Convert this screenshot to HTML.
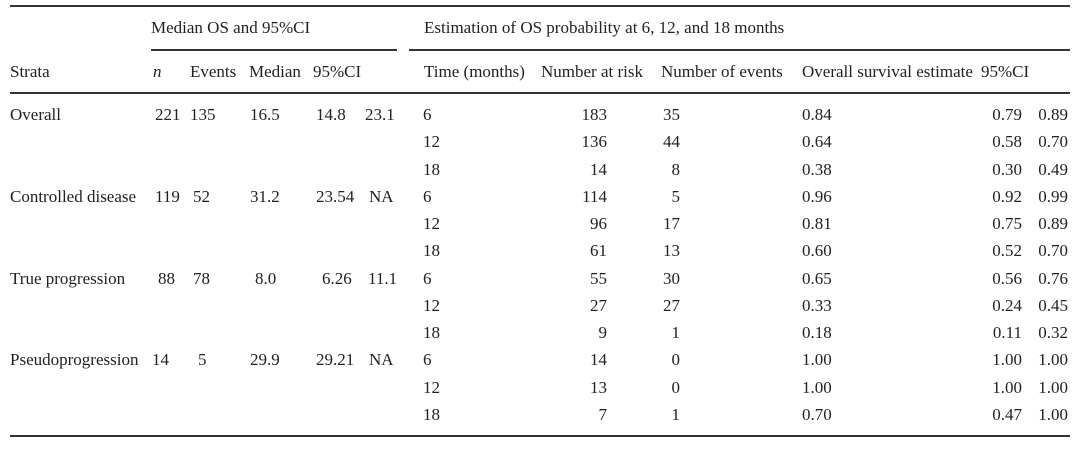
<!DOCTYPE html>
<html><head><meta charset="utf-8"><style>
body{margin:0;width:1080px;height:449px;background:#fff;position:relative;overflow:hidden;font-family:"Liberation Serif",serif;font-size:17px;color:#222}
.t{position:absolute;white-space:nowrap;line-height:20px;transform:translateY(-10px)}
.r{text-align:right}
.ln{position:absolute;background:#333}
</style></head><body>
<div class="ln" style="left:10px;top:5px;width:1060px;height:2px"></div>
<div class="ln" style="left:151px;top:49px;width:246px;height:1.5px"></div>
<div class="ln" style="left:409px;top:49px;width:661px;height:1.5px"></div>
<div class="ln" style="left:10px;top:92px;width:1060px;height:2px"></div>
<div class="ln" style="left:10px;top:435px;width:1060px;height:2px"></div>
<span class="t" style="left:151px;top:28px">Median OS and 95%CI</span>
<span class="t" style="left:424px;top:28px">Estimation of OS probability at 6, 12, and 18 months</span>
<span class="t" style="left:10px;top:72px">Strata</span>
<span class="t" style="left:153px;top:72px"><i>n</i></span>
<span class="t" style="left:190px;top:72px">Events</span>
<span class="t" style="left:249px;top:72px">Median</span>
<span class="t" style="left:313px;top:72px">95%CI</span>
<span class="t" style="left:424px;top:72px">Time (months)</span>
<span class="t" style="left:541px;top:72px">Number at risk</span>
<span class="t" style="left:661px;top:72px">Number of events</span>
<span class="t" style="left:802px;top:72px">Overall survival estimate</span>
<span class="t" style="left:981px;top:72px">95%CI</span>
<script>
const strata=[["Overall","221","135","16.5","14.8","23.1"],["Controlled disease","119","52","31.2","23.54","NA"],["True progression","88","78","8.0","6.26","11.1"],["Pseudoprogression","14","5","29.9","29.21","NA"]];
const times=["6","12","18"];
const atRisk=[["183","136","14"],["114","96","61"],["55","27","9"],["14","13","7"]];
const nEvents=[["35","44","8"],["5","17","13"],["30","27","1"],["0","0","1"]];
const est=[["0.84","0.64","0.38"],["0.96","0.81","0.60"],["0.65","0.33","0.18"],["1.00","1.00","0.70"]];
const lo=[["0.79","0.58","0.30"],["0.92","0.75","0.52"],["0.56","0.24","0.11"],["1.00","1.00","0.47"]];
const hi=[["0.89","0.70","0.49"],["0.99","0.89","0.70"],["0.76","0.45","0.32"],["1.00","1.00","1.00"]];
function cell(txt,x,y,right,name){const s=document.createElement('span');s.className='t'+(right?' r':'');


s.textContent=txt;if(right){s.style.right=(1080-x)+'px';}else s.style.left=x+'px';s.style.top=y+'px';document.body.appendChild(s);}
const colX=[[10,10,10,10],[155,155,158,152],[190,193,193,198],[250,250,255,250],[316,316,322,316],[365,369,368,369]];
const nm=['strata','n','events','median','ci-low','ci-high'];
for(let g=0;g<4;g++){const y0=115+g*81.8;
 strata[g].forEach((v,i)=>cell(v,colX[i][g],y0,false,nm[i]+'-cell'));
 for(let k=0;k<3;k++){const y=y0+k*27.3;
  cell(times[k],423,y,false,'time-cell');
  cell(atRisk[g][k],607,y,true,'at-risk-cell');
  cell(nEvents[g][k],680,y,true,'num-events-cell');
  cell(est[g][k],802,y,false,'estimate-cell');
  cell(lo[g][k],1022,y,true,'ci2-low-cell');
  cell(hi[g][k],1068,y,true,'ci2-high-cell');}}
</script>
</body></html>
